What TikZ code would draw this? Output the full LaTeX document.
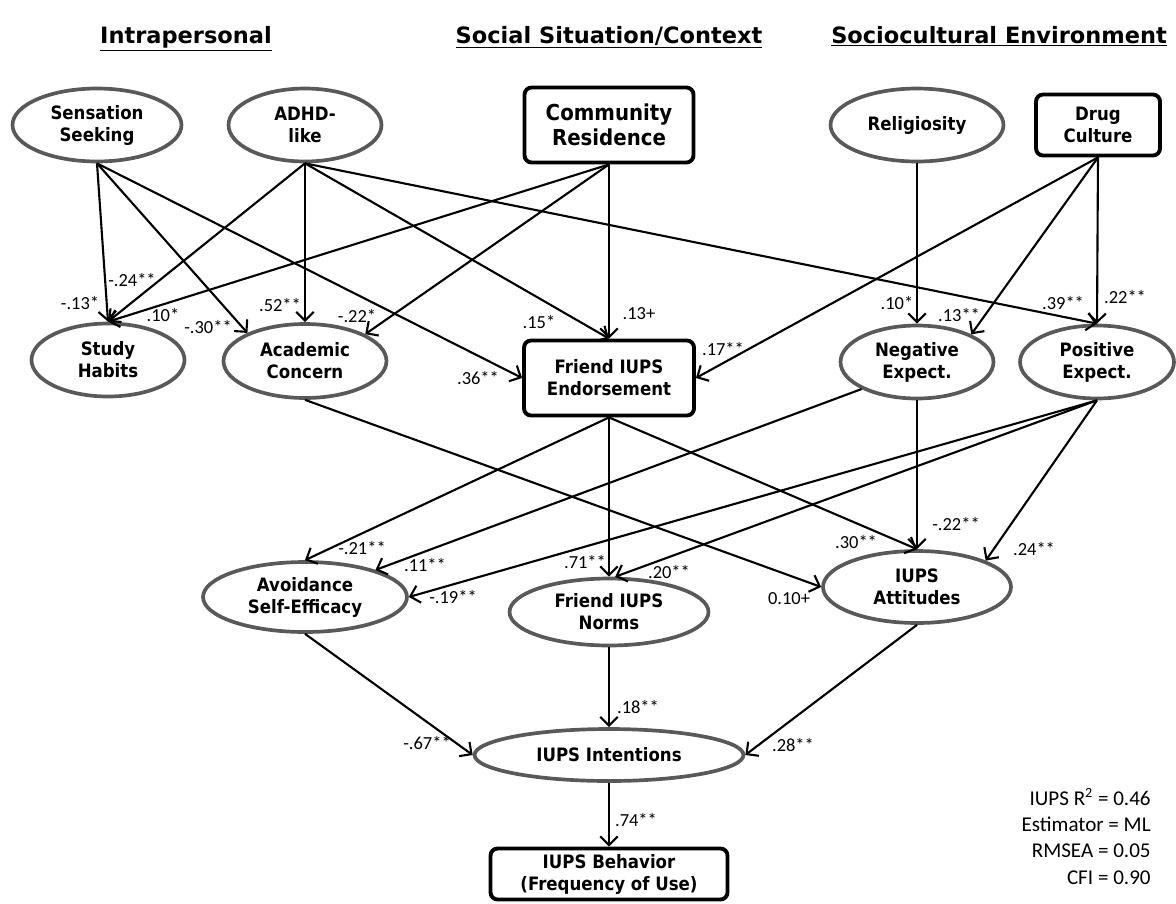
\documentclass[tikz,border=0pt]{standalone}
\usepackage{fontspec}
\setmainfont{Carlito}
\newfontfamily\nodefont{DejaVu Sans}[FakeStretch=0.9]
\newfontfamily\headfont{DejaVu Sans}
\usetikzlibrary{shapes.geometric, arrows.meta}

\begin{document}
\begin{tikzpicture}[x=0.02cm, y=-0.02cm,
        latent/.style={ellipse, draw=black!65, line width=2.1pt, fill=white, inner sep=0pt, align=center, font=\nodefont\bfseries\fontsize{10.5}{12.5}\selectfont},
        manifest/.style={rectangle, draw, line width=2.2pt, rounded corners=4pt, fill=white, inner sep=0pt, align=center, font=\nodefont\bfseries\fontsize{10.5}{12.5}\selectfont},
        effect/.style={line width=1.2pt, -{Straight Barb[length=5pt, width=10pt]}},
        coef/.style={inner sep=0pt, font=\fontsize{10.5}{12}\selectfont},
        heading/.style={anchor=base, font=\headfont\bfseries\fontsize{12.8}{15}\selectfont}]
        \useasboundingbox (0,0) rectangle (1176,903);
        \node[heading] (hintra) at (186,43) {\underline{Intrapersonal}};
        \node[heading] (hsocial) at (609,43) {\underline{Social Situation/Context}};
        \node[heading] (hculture) at (999,43) {\underline{Sociocultural Environment}};

        \node[latent, minimum width=3.38cm, minimum height=1.46cm] (sens) at (97,125) {Sensation\\Seeking};
        \node[latent, minimum width=3.06cm, minimum height=1.46cm] (adhd) at (305,125) {ADHD-\\like};
        \node[manifest, minimum width=3.38cm, minimum height=1.5cm, font=\nodefont\bfseries\fontsize{12.5}{14.5}\selectfont] (comm) at (609,125) {Community\\Residence};
        \node[latent, minimum width=3.46cm, minimum height=1.46cm] (relig) at (917,125) {Religiosity};
        \node[manifest, minimum width=2.48cm, minimum height=1.22cm] (drug) at (1098,125) {Drug\\Culture};
        \node[latent, minimum width=3.06cm, minimum height=1.46cm] (study) at (108,360) {Study\\Habits};
        \node[latent, minimum width=3.26cm, minimum height=1.48cm] (acad) at (305,361) {Academic\\Concern};
        \node[manifest, minimum width=3.40cm, minimum height=1.5cm] (endo) at (609,378) {Friend IUPS\\Endorsement};
        \node[latent, minimum width=3.06cm, minimum height=1.46cm] (neg) at (917,362) {Negative\\Expect.};
        \node[latent, minimum width=3.08cm, minimum height=1.46cm] (pos) at (1097,362) {Positive\\Expect.};
        \node[latent, minimum width=4.08cm, minimum height=1.40cm] (avoid) at (305,597) {Avoidance\\Self-Efficacy};
        \node[latent, minimum width=3.98cm, minimum height=1.34cm] (norms) at (609,612) {Friend IUPS\\Norms};
        \node[latent, minimum width=3.76cm, minimum height=1.44cm] (att) at (917,587) {IUPS\\Attitudes};
        \node[latent, minimum width=5.38cm, minimum height=1.04cm] (intent) at (609,755) {IUPS Intentions};
        \node[manifest, minimum width=4.74cm, minimum height=1.02cm] (behav) at (609,874) {IUPS Behavior\\(Frequency of Use)};

        \draw[effect] (sens.south) -- (study.north);
        \draw[effect] (sens.south) -- (acad.154);
        \draw[effect] (sens.south) -- (endo.west);
        \draw[effect] (adhd.south) -- (study.north);
        \draw[effect] (adhd.south) -- (acad.north);
        \draw[effect] (adhd.south) -- (endo.north);
        \draw[effect] (adhd.south) -- (pos.north);
        \draw[effect] (comm.south) -- (study.north);
        \draw[effect] (comm.south) -- (acad.24);
        \draw[effect] (comm.south) -- (endo.north);
        \draw[effect] (relig.south) -- (neg.north);
        \draw[effect] (drug.south) -- (endo.east);
        \draw[effect] (drug.south) -- (neg.27);
        \draw[effect] (drug.south) -- (pos.north);
        \draw[effect] (acad.south) -- (att.west);
        \draw[effect] (endo.south) -- (avoid.north);
        \draw[effect] (endo.south) -- (norms.north);
        \draw[effect] (endo.south) -- (att.north);
        \draw[effect] (neg.206) -- (avoid.21);
        \draw[effect] (neg.south) -- (att.north);
        \draw[effect] (pos.south) -- (avoid.east);
        \draw[effect] (pos.south) -- (norms.80);
        \draw[effect] (pos.south) -- (att.21);
        \draw[effect] (avoid.south) -- (intent.west);
        \draw[effect] (norms.south) -- (intent.north);
        \draw[effect] (att.south) -- (intent.east);
        \draw[effect] (intent.south) -- (behav.north);

        \node[coef] (csensstudy) at (80,303) {-.13*};
        \node[coef] (cadhdstudy) at (132,280) {-.24**};
        \node[coef] (ccommstudy) at (163,315) {.10*};
        \node[coef] (csensacad) at (208,327) {-.30**};
        \node[coef] (cadhdacad) at (280,305) {.52**};
        \node[coef] (ccommacad) at (357,316) {-.22*};
        \node[coef] (cadhdendo) at (539,322) {.15*};
        \node[coef] (csensendo) at (478,378) {.36**};
        \node[coef] (ccommendo) at (639,314) {.13+};
        \node[coef] (cdrugendo) at (723,349) {.17**};
        \node[coef] (creligneg) at (897,303) {.10*};
        \node[coef] (cdrugneg) at (959,315) {.13**};
        \node[coef] (cadhdpos) at (1063,303) {.39**};
        \node[coef] (cdrugpos) at (1125,297) {.22**};
        \node[coef] (cendoavoid) at (362,548) {-.21**};
        \node[coef] (cnegavoid) at (425,565) {.11**};
        \node[coef] (cposavoid) at (453,597) {-.19**};
        \node[coef] (cendonorms) at (585,562) {.71**};
        \node[coef] (cposnorms) at (669,572) {.20**};
        \node[coef] (cendoatt) at (856,542) {.30**};
        \node[coef] (cnegatt) at (956,524) {-.22**};
        \node[coef] (cposatt) at (1034,549) {.24**};
        \node[coef] (cacadatt) at (789,599) {0.10+};
        \node[coef] (cavoidint) at (427,743) {-.67**};
        \node[coef] (cnormsint) at (638,707) {.18**};
        \node[coef] (cattint) at (793,745) {.28**};
        \node[coef] (cintbeh) at (636,820) {.74**};

        \node[anchor=north east, align=right, inner sep=0pt, font=\fontsize{12}{15}\selectfont] (fit) at (1151,788) {IUPS R\textsuperscript{2} = 0.46\\Estimator = ML\\RMSEA = 0.05\\CFI = 0.90};
    \end{tikzpicture}
\end{document}
